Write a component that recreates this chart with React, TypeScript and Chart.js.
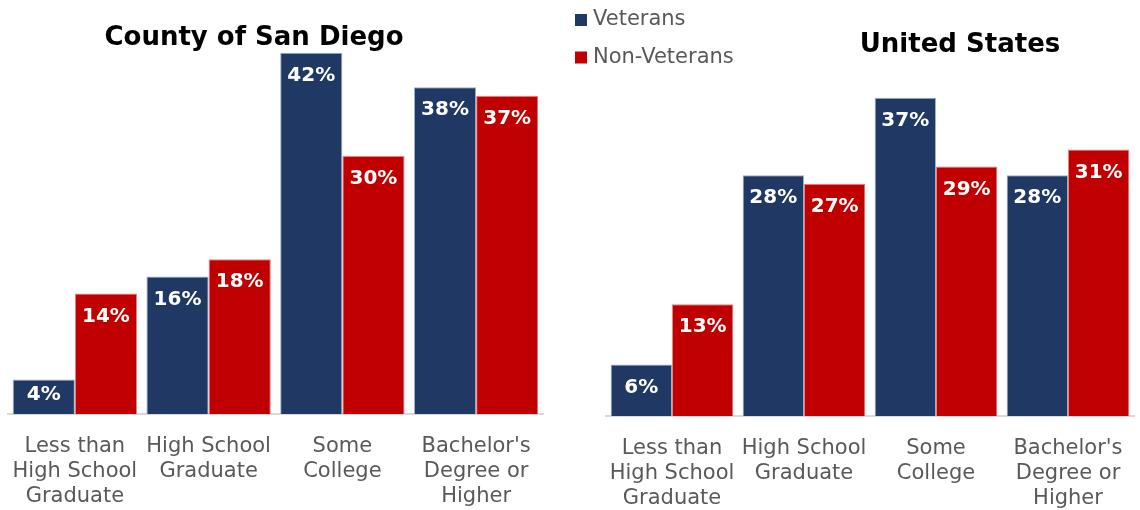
import React, { useEffect, useRef } from "react";
import { Chart, registerables } from "chart.js";

Chart.register(...registerables);

const categories: string[][] = [
  ["Less than", "High School", "Graduate"],
  ["High School", "Graduate"],
  ["Some", "College"],
  ["Bachelor's", "Degree or", "Higher"],
];
const seriesNames = ["Veterans", "Non-Veterans"];
const sdVeterans = [4, 16, 42, 38];
const sdNonVeterans = [14, 18, 30, 37];
const usVeterans = [6, 28, 37, 28];
const usNonVeterans = [13, 27, 29, 31];
const titles = ["County of San Diego", "United States"];

const BLUE = "#203864";
const RED = "#C00000";
const FONT = "'DejaVu Sans', Verdana, sans-serif";
const GRAY = "#595959";

const valueLabels = {
  id: "valueLabels",
  afterDatasetsDraw(chart: any) {
    const ctx = chart.ctx;
    ctx.save();
    ctx.fillStyle = "#ffffff";
    ctx.font = `bold 20px ${FONT}`;
    ctx.textAlign = "center";
    ctx.textBaseline = "middle";
    chart.data.datasets.forEach((ds: any, i: number) => {
      const meta = chart.getDatasetMeta(i);
      meta.data.forEach((bar: any, j: number) => {
        const h = bar.base - bar.y;
        const cy = bar.y + Math.min(23, h / 2 - 2);
        ctx.fillText(`${ds.data[j]}%`, bar.x, cy);
      });
    });
    ctx.restore();
  },
};

const panelTitle = {
  id: "panelTitle",
  afterDraw(chart: any, _args: any, opts: any) {
    const ctx = chart.ctx;
    ctx.save();
    ctx.fillStyle = "#000000";
    ctx.font = `bold 26px ${FONT}`;
    ctx.textAlign = "center";
    ctx.textBaseline = "alphabetic";
    ctx.fillText(opts.text, opts.x, opts.y);
    ctx.restore();
  },
};

const customLegend = {
  id: "customLegend",
  afterDraw(chart: any, _args: any, opts: any) {
    if (!opts.show) return;
    const ctx = chart.ctx;
    ctx.save();
    ctx.font = `21px ${FONT}`;
    ctx.textBaseline = "middle";
    ctx.textAlign = "left";
    chart.data.datasets.forEach((ds: any, i: number) => {
      const cy = opts.y + i * opts.gap;
      ctx.fillStyle = ds.backgroundColor;
      ctx.fillRect(opts.x, cy - 6, 12, 12);
      ctx.fillStyle = GRAY;
      ctx.fillText(ds.label, opts.x + 18, cy);
    });
    ctx.restore();
  },
};

function makeConfig(
  vets: number[],
  nonVets: number[],
  title: { text: string; x: number; y: number },
  padding: { left: number; right: number; top: number; bottom: number },
  axisHeight: number,
  legend: any
): any {
  return {
    type: "bar",
    data: {
      labels: categories,
      datasets: [
        {
          label: seriesNames[0],
          data: vets,
          backgroundColor: BLUE,
          borderColor: "rgba(150,165,195,0.9)",
          borderWidth: 1,
          categoryPercentage: 0.93,
          barPercentage: 1.0,
        },
        {
          label: seriesNames[1],
          data: nonVets,
          backgroundColor: RED,
          borderColor: "rgba(220,120,120,0.9)",
          borderWidth: 1,
          categoryPercentage: 0.93,
          barPercentage: 1.0,
        },
      ],
    },
    options: {
      responsive: false,
      animation: false,
      layout: { padding },
      plugins: {
        legend: { display: false },
        tooltip: { enabled: false },
        title: { display: false },
        panelTitle: title,
        customLegend: legend,
      },
      scales: {
        y: { display: false, min: 0, max: 45 },
        x: {
          grid: {
            display: true,
            drawOnChartArea: false,
            drawTicks: true,
            tickLength: 20,
            color: "rgba(0,0,0,0)",
          },
          border: { display: true, color: "#D9D9D9", width: 2 },
          ticks: {
            color: GRAY,
            font: { family: FONT, size: 21, lineHeight: 25 / 21 },
            padding: 0,
            maxRotation: 0,
            autoSkip: false,
          },
          afterFit: (s: any) => {
            s.height = axisHeight;
            s.paddingLeft = 0;
            s.paddingRight = 0;
          },
        },
      },
    },
    plugins: [valueLabels, panelTitle, customLegend],
  };
}

function Panel(props: { config: any; left: number }) {
  const ref = useRef<HTMLCanvasElement | null>(null);
  useEffect(() => {
    if (!ref.current) return;
    const chart = new Chart(ref.current, props.config);
    return () => chart.destroy();
  }, []);
  return (
    <canvas
      ref={ref}
      width={570}
      height={510}
      style={{ position: "absolute", left: props.left, top: 0, width: 570, height: 510 }}
    />
  );
}

export default function App() {
  const leftCfg = makeConfig(
    sdVeterans,
    sdNonVeterans,
    { text: titles[0], x: 254, y: 45 },
    { left: 8, right: 27, top: 27, bottom: 0 },
    96,
    { show: false }
  );
  const rightCfg = makeConfig(
    usVeterans,
    usNonVeterans,
    { text: titles[1], x: 390, y: 52 },
    { left: 36, right: 6, top: 29, bottom: 0 },
    94,
    { show: true, x: 5, y: 20, gap: 37.5 }
  );
  return (
    <div
      style={{
        position: "absolute",
        left: 0,
        top: 0,
        width: 1140,
        height: 510,
        background: "#ffffff",
        overflow: "hidden",
      }}
    >
      <Panel config={leftCfg} left={0} />
      <Panel config={rightCfg} left={570} />
    </div>
  );
}
